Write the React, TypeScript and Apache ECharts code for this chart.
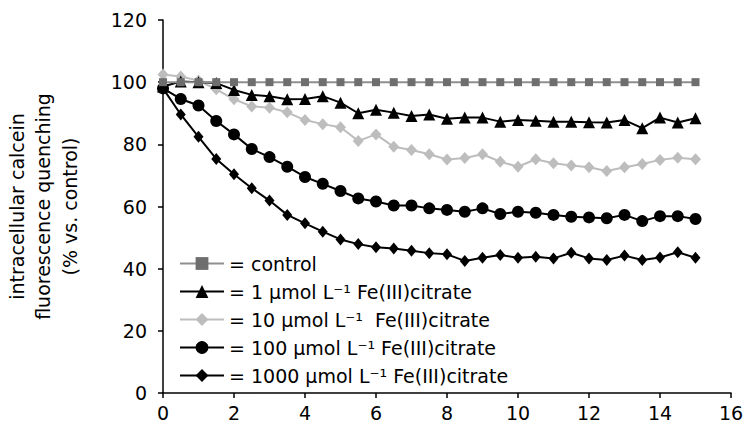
import React, { useEffect, useRef } from "react";
import * as echarts from "echarts";

const times: number[] = [
  0, 0.5, 1, 1.5, 2, 2.5, 3, 3.5, 4, 4.5, 5, 5.5, 6, 6.5, 7, 7.5, 8, 8.5, 9, 9.5,
  10, 10.5, 11, 11.5, 12, 12.5, 13, 13.5, 14, 14.5, 15,
];

const seriesNames: string[] = [
  "= control",
  "= 1 µmol L⁻¹ Fe(III)citrate",
  "= 10 µmol L⁻¹  Fe(III)citrate",
  "= 100 µmol L⁻¹ Fe(III)citrate",
  "= 1000 µmol L⁻¹ Fe(III)citrate",
];

const control: number[] = [
  100, 100, 100, 100, 100, 100, 100, 100, 100, 100, 100, 100, 100, 100, 100, 100,
  100, 100, 100, 100, 100, 100, 100, 100, 100, 100, 100, 100, 100, 100, 100,
];

const fe1: number[] = [
  98.6, 100.2, 100, 99.7, 97.5, 95.9, 95.5, 94.5, 94.6, 95.5, 93.4, 90.0, 91.1,
  90.2, 89.1, 89.6, 88.2, 88.6, 88.6, 87.3, 87.8, 87.6, 87.3, 87.3, 87.1, 87.0,
  87.8, 85.2, 88.6, 87.0, 88.4,
];

const fe10: number[] = [
  102.5, 101.8, 100.5, 97.7, 94.5, 92.2, 91.8, 90.3, 87.8, 86.5, 85.5, 81.1, 83.2,
  79.2, 78.2, 76.8, 75.1, 75.6, 76.8, 74.4, 72.8, 75.2, 73.9, 73.2, 72.6, 71.4,
  72.6, 73.7, 75.0, 75.7, 75.2,
];

const fe100: number[] = [
  98, 94.6, 92.5, 87.5, 83.2, 78.5, 75.9, 72.8, 69.5, 67.3, 65.0, 62.6, 61.6, 60.3,
  60.3, 59.4, 58.9, 58.3, 59.4, 57.6, 58.3, 58.0, 57.3, 56.7, 56.5, 56.2, 57.3,
  55.3, 56.9, 56.9, 56.0,
];

const fe1000: number[] = [
  98, 89.6, 82.4, 75.3, 70.4, 65.9, 61.9, 57.3, 54.6, 51.9, 49.4, 47.9, 46.9, 46.5,
  45.8, 45.0, 44.6, 42.5, 43.5, 44.4, 43.5, 43.8, 43.3, 45.1, 43.3, 42.8, 44.2,
  42.8, 43.6, 45.3, 43.5,
];

const xTicks = { min: 0, max: 16, interval: 2 };
const yTicks = { min: 0, max: 120, interval: 20 };

const FONT = '"DejaVu Sans", Verdana, sans-serif';

function pairs(vals: number[]): number[][] {
  return times.map((t, i) => [t, vals[i]]);
}

export default function App() {
  const ref = useRef<HTMLDivElement>(null);

  useEffect(() => {
    if (!ref.current) return;
    const chart = echarts.init(ref.current, undefined, { renderer: "svg" });

    const mk = (
      name: string,
      vals: number[],
      symbol: string,
      size: number | number[],
      lineColor: string,
      markColor: string,
      z: number
    ) => ({
      name,
      type: "line",
      data: pairs(vals),
      symbol,
      symbolSize: size,
      showSymbol: true,
      z,
      lineStyle: { color: lineColor, width: 2 },
      itemStyle: { color: markColor, borderWidth: 0 },
    });

    chart.setOption({
      animation: false,
      backgroundColor: "#ffffff",
      textStyle: { fontFamily: FONT },
      grid: {
        left: 163,
        right: 15,
        top: 20,
        bottom: 36,
        containLabel: false,
        outerBoundsMode: "none",
      },
      legend: {
        orient: "vertical",
        left: 179,
        top: 254,
        padding: 0,
        itemWidth: 44,
        itemHeight: 16,
        itemGap: 9,
        textStyle: { fontFamily: FONT, fontSize: 19, color: "#000", lineHeight: 19 },
        data: seriesNames,
      },
      xAxis: {
        type: "value",
        min: xTicks.min,
        max: xTicks.max,
        interval: xTicks.interval,
        splitLine: { show: false },
        axisLine: { lineStyle: { color: "#000", width: 1.5 } },
        axisTick: { show: true, length: 5, lineStyle: { color: "#000", width: 1.5 } },
        axisLabel: { fontFamily: FONT, fontSize: 19, color: "#000", margin: 10 },
      },
      yAxis: {
        type: "value",
        min: yTicks.min,
        max: yTicks.max,
        interval: yTicks.interval,
        splitLine: { show: false },
        axisLine: { show: true, lineStyle: { color: "#000", width: 1.5 } },
        axisTick: { show: true, length: 5, lineStyle: { color: "#000", width: 1.5 } },
        axisLabel: { fontFamily: FONT, fontSize: 19, color: "#000", margin: 16 },
        name: "intracellular calcein\nfluorescence quenching\n(% vs. control)",
        nameLocation: "middle",
        nameRotate: 90,
        nameGap: 80,
        nameTextStyle: {
          fontFamily: FONT,
          fontSize: 19,
          color: "#000",
          lineHeight: 26.5,
          align: "center",
        },
      },
      series: [
        mk(seriesNames[0], control, "rect", 8, "#8f8f8f", "#6e6e6e", 6),
        mk(seriesNames[1], fe1, "triangle", 12, "#000", "#000", 5),
        mk(seriesNames[2], fe10, "diamond", [11, 12], "#bdbdbd", "#bdbdbd", 4),
        mk(seriesNames[3], fe100, "circle", 12, "#000", "#000", 3),
        mk(seriesNames[4], fe1000, "diamond", [10, 12], "#000", "#000", 2),
      ],
    });

    return () => {
      chart.dispose();
    };
  }, []);

  return (
    <div
      ref={ref}
      style={{ position: "absolute", left: 0, top: 0, width: 746, height: 429 }}
    />
  );
}
